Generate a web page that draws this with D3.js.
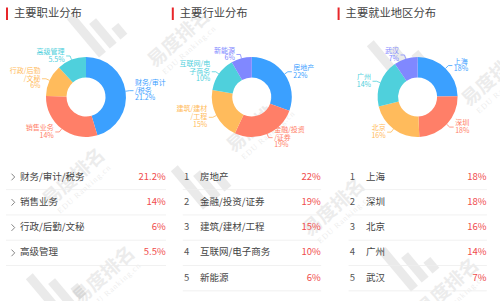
<!DOCTYPE html>
<html><head><meta charset="utf-8">
<script src="https://cdn.jsdelivr.net/npm/d3@7"></script>
<style>
html,body{margin:0;padding:0;background:#fff;}
svg{display:block;font-family:"Noto Sans CJK SC","Noto Sans",sans-serif;}
</style></head><body>
<svg id="chart" width="500" height="301"></svg>
<script>
const titles = ["主要职业分布", "主要行业分布", "主要就业地区分布"];
const jobNames = ["财务/审计/税务", "销售业务", "行政/后勤/文秘", "高级管理"];
const jobValues = [21.2, 14, 6, 5.5];
const industryNames = ["房地产", "金融/投资/证券", "建筑/建材/工程", "互联网/电子商务", "新能源"];
const industryValues = [22, 19, 15, 10, 6];
const regionNames = ["上海", "深圳", "北京", "广州", "武汉"];
const regionValues = [18, 18, 16, 14, 7];
const sliceColors = ["#3ba0ff", "#ff7f68", "#ffbb5c", "#4fd0dc", "#8088ff"];

const svg = d3.select("#chart");

// watermark (decoration)
const wm = svg.append("g").attr("class", "watermark");
const logoSpots = [[103, 28], [403, 55], [207, 180], [62, 288], [415, 262]];
const textSpots = [[183, 43], [262, 128], [497, 82], [78, 182], [338, 212], [108, 280], [452, 292]];
logoSpots.forEach(([x, y]) => {
  const g = wm.append("g").attr("transform", `translate(${x},${y}) rotate(-40)`).attr("fill", "#000").attr("opacity", 0.08);
  g.append("rect").attr("x", -22).attr("y", -30).attr("width", 9).attr("height", 50);
  g.append("rect").attr("x", -8).attr("y", -12).attr("width", 9).attr("height", 32);
  g.append("rect").attr("x", 6).attr("y", 6).attr("width", 9).attr("height", 14);
});
textSpots.forEach(([x, y]) => {
  const g = wm.append("g").attr("transform", `translate(${x},${y}) rotate(-42)`).attr("fill", "#000").attr("opacity", 0.07);
  g.append("text").attr("text-anchor", "middle").attr("font-size", 19).attr("font-weight", "bold").text("易度排名");
  g.append("text").attr("text-anchor", "middle").attr("y", 12).attr("font-size", 8).attr("font-family", "Liberation Serif").attr("letter-spacing", 1).text("EDU Ranking.cn");
});

const panels = [
  {names: jobNames, values: jobValues, numbered: false},
  {names: industryNames, values: industryValues, numbered: true},
  {names: regionNames, values: regionValues, numbered: true}
];
const panelW = 165.8;
const rOuter = 40, rInner = 19.5;
const pie = d3.pie().sort(null).value(d => d);
const arc = d3.arc().innerRadius(rInner).outerRadius(rOuter);
const fmt = v => v + "%";

panels.forEach((p, pi) => {
  const x0 = pi * panelW;
  const g = svg.append("g").attr("transform", `translate(${x0},0)`);
  // title
  g.append("rect").attr("x", pi === 0 ? 6 : 6).attr("y", 7.5).attr("width", 2).attr("height", 12.5).attr("fill", "#e8262a");
  g.append("text").attr("x", 14).attr("y", 14).attr("dominant-baseline", "middle")
    .attr("font-size", 11.3).attr("fill", "#444").text(titles[pi]);

  // donut
  const cx = 86, cy = 97;
  const dg = g.append("g").attr("transform", `translate(${cx},${cy})`);
  const arcs = pie(p.values);
  dg.selectAll("path.slice").data(arcs).join("path").attr("class", "slice")
    .attr("d", arc).attr("fill", (d, i) => sliceColors[i]);

  // labels
  arcs.forEach((d, i) => {
    const mid = (d.startAngle + d.endAngle) / 2;
    const sx = Math.sin(mid), sy = -Math.cos(mid);
    const right = sx >= 0;
    const p1 = [sx * rOuter, sy * rOuter];
    const p2 = [sx * (rOuter + 4), sy * (rOuter + 4)];
    const p3 = [p2[0] + (right ? 4 : -4), p2[1]];
    dg.append("path").attr("d", d3.line()([p1, p2, p3])).attr("fill", "none")
      .attr("stroke", sliceColors[i]).attr("stroke-width", 0.8);
    const name = p.names[i];
    const chunks = [];
    for (let k = 0; k < name.length; k += 5) chunks.push(name.slice(k, k + 5));
    const lines = chunks.concat([fmt(p.values[i])]);
    const lh = 7.8;
    const t = dg.append("text").attr("font-size", 7).attr("fill", sliceColors[i])
      .attr("text-anchor", right ? "start" : "end");
    lines.forEach((ln, k) => {
      t.append("tspan").attr("x", p3[0] + (right ? 1.5 : -1.5))
        .attr("y", p3[1] + (k - (lines.length - 1) / 2) * lh)
        .attr("dominant-baseline", "middle").text(ln);
    });
  });

  // list
  const rowY = d3.scalePoint().domain(d3.range(5)).range([177, 177 + 4 * 25.3]);
  const left = p.numbered ? 17 : 6;
  const right = p.numbered ? 155.3 : 166;
  p.names.forEach((name, i) => {
    const y = rowY(i);
    if (p.numbered) {
      g.append("text").attr("x", 18.2).attr("y", y).attr("dominant-baseline", "middle")
        .attr("font-size", 9.5).attr("fill", "#555").text(i + 1);
      g.append("text").attr("x", 34.3).attr("y", y).attr("dominant-baseline", "middle")
        .attr("font-size", 9.5).attr("fill", "#444").text(name);
    } else {
      g.append("path").attr("d", `M11.5,${y - 3.3}L14.7,${y}L11.5,${y + 3.3}`)
        .attr("fill", "none").attr("stroke", "#777").attr("stroke-width", 0.9);
      g.append("text").attr("x", 20).attr("y", y).attr("dominant-baseline", "middle")
        .attr("font-size", 9.5).attr("fill", "#444").text(name);
    }
    g.append("text").attr("x", right - 0.3).attr("y", y).attr("dominant-baseline", "middle")
      .attr("text-anchor", "end").attr("font-size", 9.5).attr("fill", "#f04c4c").text(fmt(p.values[i]));
    g.append("line").attr("x1", left).attr("x2", right).attr("y1", y + 12.6).attr("y2", y + 12.6)
      .attr("stroke", "#eeeeee").attr("stroke-width", 0.8);
  });
});
</script>
</body></html>
